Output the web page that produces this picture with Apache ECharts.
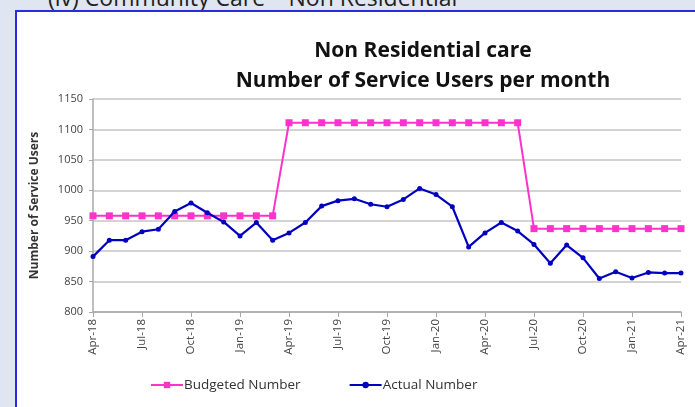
<!DOCTYPE html>
<html>
<head>
<meta charset="utf-8">
<script src="https://cdn.jsdelivr.net/npm/echarts@6/dist/echarts.min.js"></script>
<style>
  html, body { margin: 0; padding: 0; overflow: hidden; }
  body { width: 695px; height: 407px; background: #dfe6f1; position: relative; font-family: "Open Sans", sans-serif; }
  #heading { position: absolute; left: 48px; top: -19px; font-size: 23px; color: #222; white-space: nowrap; }
  #box { position: absolute; left: 15px; top: 10px; width: 680px; height: 397px; background: #fff; border-left: 2px solid #2a2ae0; border-top: 2px solid #2a2ae0; }
  #main { position: absolute; left: 0; top: 0; width: 695px; height: 407px; }
</style>
</head>
<body>
<div id="heading">(iv) Community Care – Non Residential</div>
<div id="box"></div>
<div id="main"></div>
<script>
// months Apr-18 .. Apr-21
const months = [
  'Apr-18', 'May-18', 'Jun-18', 'Jul-18', 'Aug-18', 'Sep-18', 'Oct-18', 'Nov-18', 'Dec-18',
  'Jan-19', 'Feb-19', 'Mar-19', 'Apr-19', 'May-19', 'Jun-19', 'Jul-19', 'Aug-19', 'Sep-19',
  'Oct-19', 'Nov-19', 'Dec-19', 'Jan-20', 'Feb-20', 'Mar-20', 'Apr-20', 'May-20', 'Jun-20',
  'Jul-20', 'Aug-20', 'Sep-20', 'Oct-20', 'Nov-20', 'Dec-20', 'Jan-21', 'Feb-21', 'Mar-21', 'Apr-21'
];

const budgeted = [
  958, 958, 958, 958, 958, 958, 958, 958, 958, 958, 958, 958,
  1111, 1111, 1111, 1111, 1111, 1111, 1111, 1111, 1111, 1111, 1111, 1111, 1111, 1111, 1111,
  937, 937, 937, 937, 937, 937, 937, 937, 937, 937
];

const actual = [
  891, 918, 918, 932, 936, 965, 979, 963, 948, 925, 947, 918,
  930, 947, 974, 983, 986, 977, 973, 985, 1003, 993, 973, 907, 930, 947, 933,
  911, 880, 910, 889, 855, 866, 856, 865, 864, 864
];

const yTicks = { min: 800, max: 1150, step: 50 };

let chartDom = document.getElementById('main');
let myChart = echarts.init(chartDom, null, { renderer: 'canvas' });

const labelFont = 'Open Sans';

const option = {
  backgroundColor: 'transparent',
  animation: false,
  title: {
    text: 'Non Residential care\nNumber of Service Users per month',
    left: 418,
    top: 31,
    textAlign: 'center',
    textStyle: {
      fontFamily: 'Open Sans',
      fontSize: 21,
      fontWeight: 'bold',
      color: '#111',
      lineHeight: 30
    }
  },
  grid: { left: 93, right: 14, top: 99, bottom: 95 },
  legend: {
    bottom: 10,
    left: 145,
    itemGap: 48,
    itemWidth: 32,
    itemHeight: 8,
    textStyle: { fontFamily: labelFont, fontSize: 13.5, color: '#333', padding: [0, 0, 0, -4] },
    data: ['Budgeted Number', 'Actual Number']
  },
  xAxis: {
    type: 'category',
    data: months,
    boundaryGap: false,
    axisLine: { lineStyle: { color: '#a8a8a8', width: 1.5 } },
    axisTick: { interval: 2, length: 5, lineStyle: { color: '#a8a8a8' } },
    axisLabel: {
      interval: 2,
      rotate: 90,
      fontFamily: labelFont,
      fontSize: 11.5,
      color: '#444',
      margin: 7
    },
    splitLine: { show: false }
  },
  yAxis: {
    type: 'value',
    min: yTicks.min,
    max: yTicks.max,
    interval: yTicks.step,
    name: 'Number of Service Users',
    nameLocation: 'middle',
    nameGap: 52,
    nameTextStyle: { fontFamily: labelFont, fontSize: 12, fontWeight: 'bold', color: '#333' },
    axisLine: { show: true, lineStyle: { color: '#a8a8a8', width: 1.5 } },
    axisTick: { show: true, length: 4, lineStyle: { color: '#a8a8a8' } },
    axisLabel: {
      fontFamily: labelFont,
      fontSize: 11,
      color: '#444',
      margin: 10,
      formatter: function (v) { return String(v); }
    },
    splitLine: { lineStyle: { color: '#c4c4c4', width: 1.5 } }
  },
  series: [
    {
      name: 'Budgeted Number',
      type: 'line',
      data: budgeted,
      symbol: 'rect',
      symbolSize: 7,
      color: '#ff33cc',
      lineStyle: { width: 2, color: '#ff33cc' },
      itemStyle: { color: '#ff33cc' },
      z: 3
    },
    {
      name: 'Actual Number',
      type: 'line',
      data: actual,
      symbol: 'circle',
      symbolSize: 5,
      color: '#0000c0',
      lineStyle: { width: 2.2, color: '#0000c0' },
      itemStyle: { color: '#0000c0' },
      z: 4
    }
  ]
};

myChart.setOption(option);

window.addEventListener('resize', function() {
  myChart.resize();
});
</script>
</body>
</html>
